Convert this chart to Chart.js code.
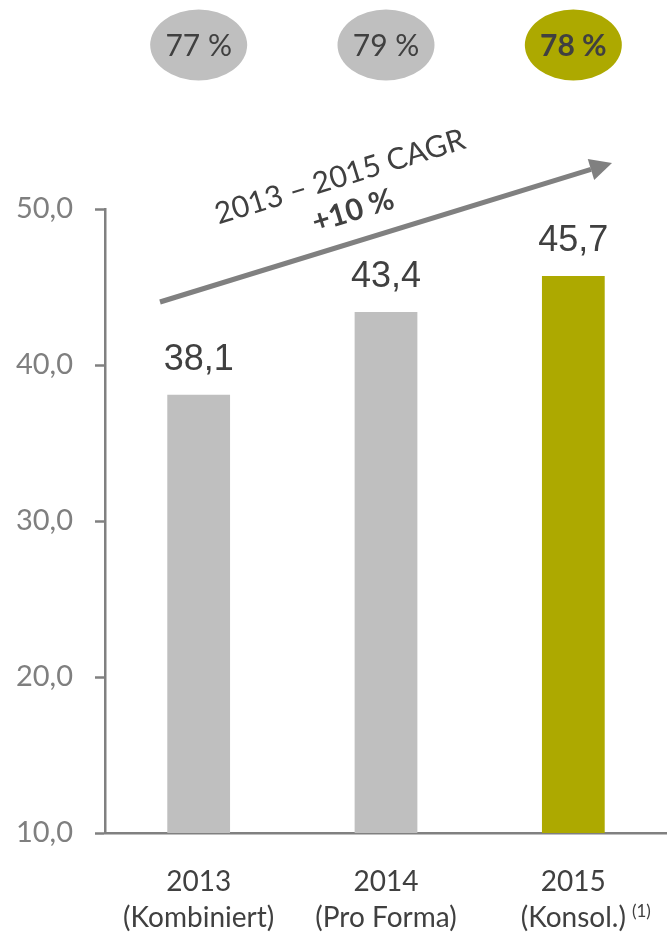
<!DOCTYPE html>
<html>
<head>
<meta charset="utf-8">
<script src="https://cdn.jsdelivr.net/npm/chart.js@4.4.0/dist/chart.umd.min.js"></script>
<style>
    body { margin: 0; background: #ffffff; }
    #wrap { width: 667px; height: 938px; }
</style>
</head>
<body>
<div id="wrap"><canvas id="revenueChart"></canvas></div>
<script>
// Daten aus der Grafik
const years = ['2013', '2014', '2015'];
const yearNotes = ['(Kombiniert)', '(Pro Forma)', '(Konsol.)'];
const revenue = [38.1, 43.4, 45.7];
const shares = [77, 79, 78];
const yMin = 10;
const yMax = 50;
const yStep = 10;
const cagrLabel = '2013 – 2015 CAGR';
const cagrValue = '+10 %';
const footnote = '(1)';

const GRAY = '#BFBFBF';
const OLIVE = '#ADA900';
const TEXT = '#404040';
const AXIS = '#808080';
const barColors = [GRAY, GRAY, OLIVE];

const fmt = v => v.toFixed(1).replace('.', ',');

// Werte über den Balken, Kreise oben, CAGR-Pfeil
const decorPlugin = {
    id: 'decor',
    afterDatasetsDraw(chart) {
        const ctx = chart.ctx;
        const meta = chart.getDatasetMeta(0);
        const xScale = chart.scales.x;
        const area = chart.chartArea;

        ctx.save();
        // Balkenwerte
        ctx.fillStyle = TEXT;
        ctx.font = '36px "Liberation Sans", Arial, sans-serif';
        ctx.textAlign = 'center';
        ctx.textBaseline = 'alphabetic';
        meta.data.forEach((bar, i) => {
            ctx.fillText(fmt(revenue[i]), bar.x, bar.y - 25);
        });

        // Anteile in Ellipsen
        shares.forEach((s, i) => {
            const cx = xScale.getPixelForValue(i);
            ctx.beginPath();
            ctx.ellipse(cx, 45, 48.5, 35.5, 0, 0, Math.PI * 2);
            ctx.fillStyle = barColors[i];
            ctx.fill();
            ctx.fillStyle = TEXT;
            ctx.font = (i === 2 ? 'bold ' : '') + '30px Lato, sans-serif';
            ctx.textBaseline = 'middle';
            ctx.fillText(s + ' %', cx, 46);
        });

        // CAGR-Pfeil
        const x1 = 160, y1 = 302;
        const x2 = 612, y2 = 163;
        const ang = Math.atan2(y2 - y1, x2 - x1);
        const head = 22;
        const xb = x2 - head * Math.cos(ang), yb = y2 - head * Math.sin(ang);
        ctx.strokeStyle = AXIS;
        ctx.lineWidth = 5;
        ctx.beginPath();
        ctx.moveTo(x1, y1);
        ctx.lineTo(xb, yb);
        ctx.stroke();
        ctx.fillStyle = AXIS;
        ctx.beginPath();
        ctx.moveTo(x2, y2);
        ctx.lineTo(xb + 11 * Math.sin(ang), yb - 11 * Math.cos(ang));
        ctx.lineTo(xb - 11 * Math.sin(ang), yb + 11 * Math.cos(ang));
        ctx.closePath();
        ctx.fill();

        // CAGR-Text
        ctx.fillStyle = TEXT;
        ctx.textBaseline = 'middle';
        ctx.save();
        ctx.translate(340, 177);
        ctx.rotate(ang);
        ctx.font = '30px Lato, sans-serif';
        ctx.fillText(cagrLabel, 0, 0);
        ctx.restore();
        ctx.save();
        ctx.translate(353, 211);
        ctx.rotate(ang);
        ctx.font = 'bold 30px Lato, sans-serif';
        ctx.fillText(cagrValue, 0, 0);
        ctx.restore();

        // Fußnote (1) hinter "(Konsol.)"
        ctx.font = '28px Lato, sans-serif';
        const w = ctx.measureText(yearNotes[2]).width;
        ctx.font = '17px Lato, sans-serif';
        ctx.textAlign = 'left';
        ctx.textBaseline = 'alphabetic';
        ctx.fillText(footnote, xScale.getPixelForValue(2) + w / 2 + 6, 917);
        ctx.restore();
    }
};

new Chart(document.getElementById('revenueChart'), {
    type: 'bar',
    data: {
        labels: years.map((y, i) => [y, yearNotes[i]]),
        datasets: [{
            data: revenue,
            backgroundColor: barColors,
            barPercentage: 1,
            categoryPercentage: 0.335
        }]
    },
    options: {
        responsive: true,
        maintainAspectRatio: false,
        animation: false,
        layout: { padding: { top: 209, left: 0, right: 0, bottom: 0 } },
        plugins: {
            legend: { display: false },
            tooltip: { enabled: false }
        },
        scales: {
            x: {
                grid: { display: false },
                border: { display: true, color: AXIS, width: 2.5 },
                ticks: {
                    color: TEXT,
                    font: { family: 'Lato', size: 28, lineHeight: 1.32 },
                    padding: 22,
                    maxRotation: 0
                },
                afterFit: s => { s.height = 105; }
            },
            y: {
                min: yMin,
                max: yMax,
                grid: {
                    drawOnChartArea: false,
                    drawTicks: true,
                    tickLength: 10,
                    tickColor: AXIS,
                    tickWidth: 2.5
                },
                border: { display: true, color: AXIS, width: 2.5 },
                ticks: {
                    stepSize: yStep,
                    color: '#7F7F7F',
                    font: { family: 'Lato', size: 29 },
                    padding: 22,
                    callback: v => fmt(v)
                },
                afterFit: s => { s.width = 105; }
            }
        }
    },
    plugins: [decorPlugin]
});
</script>
</body>
</html>
